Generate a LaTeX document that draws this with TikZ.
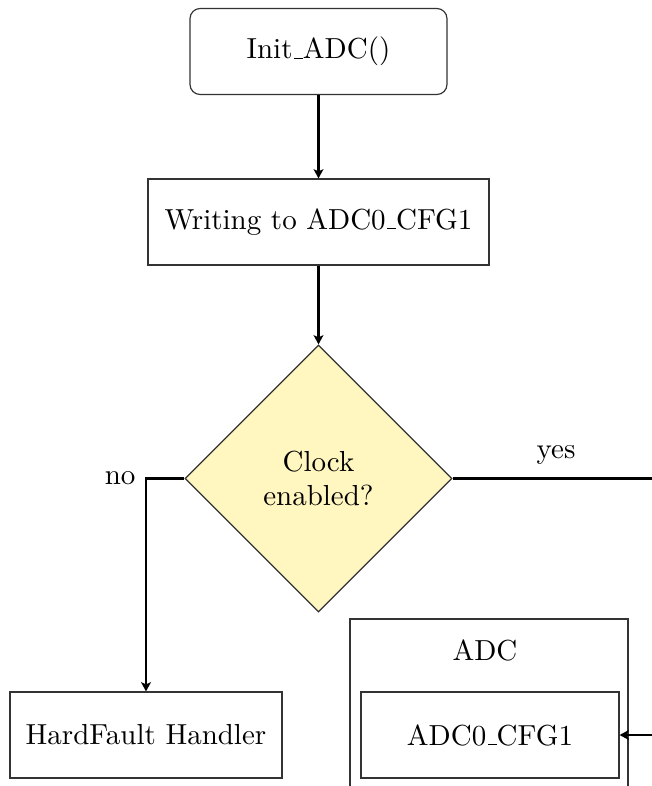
\documentclass[tikz,border=0pt]{standalone}
\usetikzlibrary{shapes.geometric,arrows.meta}
\definecolor{decfill}{RGB}{255,246,192}
% low rule underscore, as in the classic text fonts
\newcommand\lowbar{\leavevmode\kern.06em\vbox{\hrule width.3em}}
\begin{document}
\begin{tikzpicture}[x=0.345pt,y=-0.345pt,
  font=\fontsize{10}{12}\selectfont,
  boxed/.style={draw=black!80,line width=0.4pt,rectangle,inner sep=0pt,
    minimum width=#1*0.345pt,minimum height=86*0.345pt},
  startbox/.style={boxed=#1,rounded corners=3.5pt},
  decision/.style={draw=black!80,line width=0.4pt,diamond,fill=decfill,
    inner sep=0pt,minimum width=267*0.345pt,minimum height=267*0.345pt,
    align=center},
  flow/.style={-{Stealth[length=3.2pt,width=3.4pt,inset=0.8pt]},line width=0.8pt},
  lbl/.style={inner sep=0pt}]
\useasboundingbox (0,0) rectangle (652,786);
\clip (0,0) rectangle (652,786);

% process steps
\node[startbox=257] (init) at (318.5,51.5) {Init\lowbar ADC()};
\node[boxed=341] (write) at (318.5,222) {Writing to ADC0\lowbar CFG1};
\node[decision] (dec) at (318.5,478.5) {Clock\\enabled?};
\node[boxed=272] (hf) at (146,735) {HardFault Handler};

% ADC peripheral with its register
\node[draw=black!80,line width=0.4pt,rectangle,inner sep=0pt,
  minimum width=278*0.345pt,minimum height=200*0.345pt] (adc) at (489,719) {};
\node[lbl] (adclbl) at (485,650) {ADC};
\node[boxed=258] (cfg) at (490,735) {ADC0\lowbar CFG1};

% open ends of the connectors
\coordinate (yesend) at (660,478.5);
\coordinate (cfgin) at (660,735);

% connectors
\draw[flow] (init) -- (write);
\draw[flow] (write) -- (dec);
\draw[flow] (dec.west) -| (hf.north);
\draw[line width=0.8pt] (dec.east) -- (yesend);
\draw[flow] (cfgin) -- (cfg.east);

% branch labels
\node[lbl,anchor=east] (nolbl) at (136,478.5) {no};
\node[lbl] (yeslbl) at (556,455) {yes};
\end{tikzpicture}
\end{document}
